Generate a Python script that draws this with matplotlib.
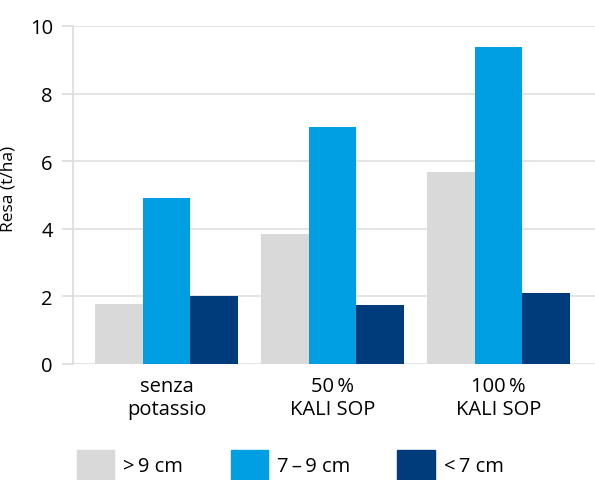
import numpy as np
import matplotlib.pyplot as plt
from matplotlib.patches import Patch

plt.rcParams['font.family'] = ['Open Sans', 'DejaVu Sans']

# data
categories = ['senza\npotassio', '50\u2009%\nKALI SOP', '100\u2009%\nKALI SOP']
sizes = ['>\u20099 cm', '7\u2009\u2013\u20099 cm', '<\u20097 cm']
big = [1.78, 3.85, 5.68]
mid = [4.91, 7.01, 9.38]
small = [2.01, 1.75, 2.10]
colors = ['#d9d9d9', '#009fe3', '#003b7b']

fig = plt.figure(figsize=(5.95, 4.81), dpi=100)
ax = fig.add_axes([73/595, 1-365/481, 1-73/595, (365-27)/481])

x = np.arange(len(categories))
w = 0.286
for i, vals in enumerate([big, mid, small]):
    ax.bar(x + (i-1)*w, vals, w, color=colors[i], zorder=3)

ax.set_ylim(0, 10)
ax.set_xlim(-0.563, 2.58)
ax.set_yticks([0, 2, 4, 6, 8, 10])
ax.set_xticks(x)
ax.set_xticklabels(categories, fontsize=14.5, linespacing=1.2)
ax.tick_params(axis='x', length=0, pad=9)
ax.tick_params(axis='y', length=8, width=1.2, color='#dcdcdc', pad=6.5, labelsize=14.5)
ax.grid(axis='y', color='#e2e2e2', linewidth=1.3, zorder=0)
for s in ['top', 'right', 'bottom']:
    ax.spines[s].set_visible(False)
ax.spines['left'].set_color('#dcdcdc')
ax.spines['left'].set_linewidth(1.2)
ax.set_ylabel('Resa (t/ha)', fontsize=12.5)
ax.yaxis.set_label_coords(-(73-17)/522, 0.52)

handles = [Patch(color=c) for c in colors]
fig.legend(handles, sizes, loc='center left', bbox_to_anchor=(77/595, 1-466/481),
           ncol=3, frameon=False, fontsize=14.5, borderpad=0, borderaxespad=0,
           handlelength=1.85, handleheight=1.85, handletextpad=0.45, columnspacing=2.35)

fig.savefig('out.png', dpi=100)
